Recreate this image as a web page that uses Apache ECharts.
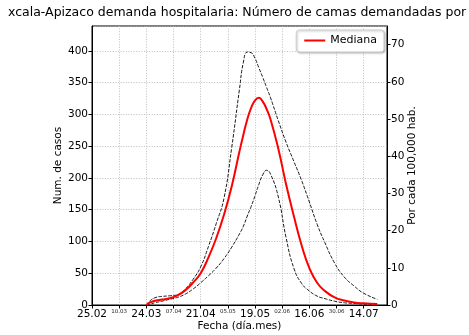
<!DOCTYPE html>
<html>
<head>
<meta charset="utf-8">
<script src="https://cdn.jsdelivr.net/npm/echarts@6/dist/echarts.min.js"></script>
<style>
html,body{margin:0;padding:0;background:#fff;}
#chart{width:469px;height:335px;}
</style>
</head>
<body>
<div id="chart"></div>
<script>
// Days counted from 25.02 (2020)
var days   = [28, 30, 33, 36, 40, 44, 48, 52, 56, 60, 64, 68, 72, 76, 78, 80, 82, 84, 86, 88, 90, 92, 96, 100, 104, 108, 112, 116, 120, 125, 130, 135, 140, 147];
var median = [0, 4, 7, 8.5, 10.5, 15, 23, 35, 50, 75, 105, 142, 187, 242, 268, 292, 310, 322, 326, 320, 308, 292, 246, 190, 140, 94, 58, 35, 22, 12, 7, 4, 2.6, 1.5];
var upper  = [0, 7, 12, 13.5, 14.5, 16, 25, 40, 60, 92, 128, 168, 248, 340, 382, 398, 397, 388, 373, 358, 342, 326, 290, 256, 226, 196, 162, 127, 98, 66, 44, 30, 18.5, 9];
var lower  = [0, 1.5, 4, 6, 9, 12, 17, 25, 35, 46, 58, 73, 91, 112, 124, 140, 155, 172, 190, 205, 212, 206, 170, 106, 58, 34, 22, 14, 10, 6, 3.5, 2.5, 1.5, 1];
var xTickLabels = ['25.02','10.03','24.03','07.04','21.04','05.05','19.05','02.06','16.06','30.06','14.07'];
var titleText = 'xcala-Apizaco demanda hospitalaria: Número de camas demandadas por';

function pairs(v){ return days.map(function(d,i){ return [d, v[i]]; }); }

var font = 'DejaVu Sans';
var chart = echarts.init(document.getElementById('chart'), null, {renderer:'canvas'});
var gridLine = {show:true, lineStyle:{color:'#b0b0b0', width:0.8, type:[1,1.6]}};
chart.setOption({
  animation:false,
  textStyle:{fontFamily:font},
  title:{text:titleText, left:8, top:6, padding:0, textStyle:{fontFamily:font, fontSize:12.5, fontWeight:'normal', color:'#000'}},
  grid:{left:92, right:82, top:26, bottom:30, show:true, borderColor:'#000', borderWidth:1, backgroundColor:'transparent', outerBoundsMode:'none', containLabel:false},
  legend:{
    data:[{name:'Mediana', icon:'rect'}],
    right:85, top:30, itemWidth:21, itemHeight:2, itemGap:8,
    padding:[5,7,6,8], borderColor:'#cccccc', borderWidth:1, borderRadius:3,
    backgroundColor:'#fff', shadowColor:'rgba(0,0,0,0.25)', shadowBlur:2, shadowOffsetX:1, shadowOffsetY:1,
    textStyle:{fontFamily:font, fontSize:11, color:'#000'}
  },
  xAxis:{
    type:'value', min:0, max:152, interval:14,
    name:'Fecha (día.mes)', nameLocation:'middle', nameGap:16, nameMoveOverlap:false,
    nameTextStyle:{fontFamily:font, fontSize:10.5, color:'#000'},
    axisLine:{show:true, onZero:false, lineStyle:{color:'#000', width:1}},
    axisTick:{show:true, length:3.5, lineStyle:{color:'#000'}},
    splitLine:gridLine,
    axisLabel:{
      margin:4, showMaxLabel:false,
      formatter:function(v){
        var i = Math.round(v/14);
        if (Math.abs(v - i*14) > 0.01 || i >= xTickLabels.length) return '';
        return (i % 2 === 0) ? '{b|' + xTickLabels[i] + '}' : '{s|' + xTickLabels[i] + '}';
      },
      rich:{
        b:{fontFamily:font, fontSize:10.5, color:'#000', lineHeight:12, verticalAlign:'top'},
        s:{fontFamily:font, fontSize:5.5, color:'#222', lineHeight:12, verticalAlign:'top', padding:[0,0,6,0]}
      }
    }
  },
  yAxis:[{
    type:'value', min:0, max:439, interval:50, position:'left',
    name:'Num. de casos', nameLocation:'middle', nameGap:28, nameRotate:90, nameMoveOverlap:false,
    nameTextStyle:{fontFamily:font, fontSize:10.5, color:'#000'},
    axisLine:{show:true, lineStyle:{color:'#000'}},
    axisTick:{show:true, length:3.5, lineStyle:{color:'#000'}},
    axisLabel:{fontFamily:font, fontSize:10.5, color:'#000', margin:4, showMaxLabel:false},
    splitLine:gridLine
  },{
    type:'value', min:0, max:75, interval:10, position:'right',
    name:'Por cada 100,000 hab.', nameLocation:'middle', nameGap:20, nameRotate:90, nameMoveOverlap:false,
    nameTextStyle:{fontFamily:font, fontSize:10.5, color:'#000'},
    axisLine:{show:true, lineStyle:{color:'#000'}},
    axisTick:{show:true, length:3.5, lineStyle:{color:'#000'}},
    axisLabel:{fontFamily:font, fontSize:10.5, color:'#000', margin:4, showMaxLabel:false},
    splitLine:{show:false}
  }],
  series:[
    {name:'upper', type:'line', data:pairs(upper), symbol:'none', smooth:true,
     lineStyle:{color:'#000', width:0.9, type:[3.5,1.5]}, z:3},
    {name:'lower', type:'line', data:pairs(lower), symbol:'none', smooth:true,
     lineStyle:{color:'#000', width:0.9, type:[3.5,1.5]}, z:3},
    {name:'Mediana', type:'line', data:pairs(median), symbol:'none', smooth:true,
     lineStyle:{color:'#ff0000', width:2}, itemStyle:{color:'#ff0000'}, z:4}
  ]
});
</script>
</body>
</html>
